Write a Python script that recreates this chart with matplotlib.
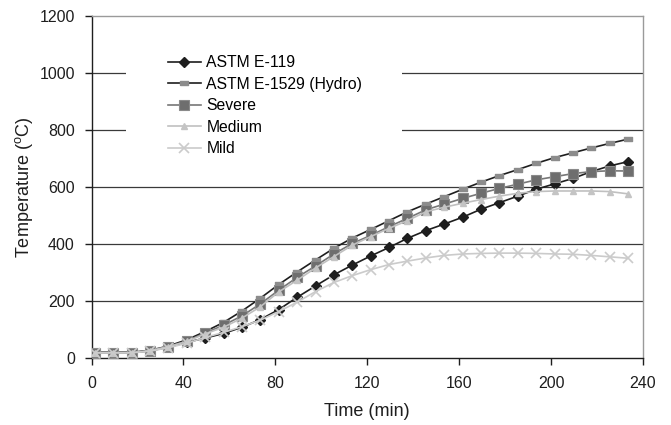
import matplotlib
matplotlib.use("Agg")
import matplotlib.pyplot as plt
from matplotlib.patches import Rectangle

plt.rcParams["font.family"] = ["Liberation Sans", "DejaVu Sans"]
plt.rcParams["mathtext.fontset"] = "custom"
plt.rcParams["mathtext.rm"] = "Liberation Sans"

# Time in minutes
time_min = [1.5, 9.5, 17.5, 25.5, 33.5, 41.5, 49.5, 57.5, 65.5, 73.5,
            81.5, 89.5, 97.5, 105.5, 113.5, 121.5, 129.5, 137.5, 145.5, 153.5,
            161.5, 169.5, 177.5, 185.5, 193.5, 201.5, 209.5, 217.5, 225.5, 233.5]

# Temperature curves (deg C)
astm_e119 = [19, 19, 19, 25, 38, 55, 70, 86, 108, 135,
             170, 213, 253, 292, 326, 358, 388, 420, 447, 470,
             494, 522, 545, 568, 592, 611, 630, 654, 674, 689]
astm_e1529 = [20, 20, 20, 27, 42, 64, 93, 125, 165, 210,
              258, 302, 344, 385, 421, 451, 482, 513, 540, 566,
              592, 617, 640, 661, 683, 703, 720, 737, 753, 768]
severe = [19, 19, 19, 26, 40, 60, 88, 115, 148, 190,
          238, 283, 323, 365, 402, 430, 461, 490, 520, 540,
          560, 578, 595, 610, 625, 636, 647, 654, 657, 656]
medium = [19, 19, 19, 26, 40, 58, 85, 108, 140, 180,
          232, 273, 316, 356, 396, 426, 455, 482, 513, 529,
          543, 556, 568, 578, 584, 586, 586, 586, 584, 576]
mild = [18, 18, 18, 24, 36, 52, 72, 90, 110, 133,
        163, 196, 233, 265, 289, 310, 328, 340, 351, 360,
        365, 367, 368, 368, 367, 365, 364, 360, 355, 350]

x_ticks = [0, 40, 80, 120, 160, 200, 240]
y_ticks = [0, 200, 400, 600, 800, 1000, 1200]

W, H = 671, 425
fig = plt.figure(figsize=(W / 100, H / 100), dpi=100)
ax = fig.add_axes([91.5 / W, 1 - 358 / H, (643 - 91.5) / W, (358 - 16) / H])

# horizontal grid
for yv in y_ticks[1:-1]:
    ax.axhline(yv, color="#3a3a3a", lw=0.9, zorder=1)

# white panel behind the legend
ax.add_patch(Rectangle((15, 690), 120, 400, facecolor="white",
                       edgecolor="none", zorder=1.5))

rect_marker = [(-1, -0.45), (1, -0.45), (1, 0.45), (-1, 0.45), (-1, -0.45)]

ax.plot(time_min, astm_e119, color="#1e1e1e", lw=1.2, marker="D", ms=5,
        mfc="#1e1e1e", mec="#1e1e1e", label="ASTM E-119", zorder=3)
ax.plot(time_min, astm_e1529, color="#1e1e1e", lw=1.2, marker=rect_marker, ms=6,
        mfc="#8c8c8c", mec="#8c8c8c", label="ASTM E-1529 (Hydro)", zorder=3)
ax.plot(time_min, severe, color="#777777", lw=1.2, marker="s", ms=7.5,
        mfc="#6e6e6e", mec="#8a8a8a", mew=0.8, label="Severe", zorder=3)
ax.plot(time_min, medium, color="#c0c0c0", lw=1.2, marker="^", ms=5,
        mfc="#c4c4c4", mec="#c4c4c4", label="Medium", zorder=3)
ax.plot(time_min, mild, color="#cbcbcb", lw=1.2, marker="x", ms=6.5, mew=1.2,
        mfc="#cbcbcb", mec="#cbcbcb", label="Mild", zorder=3)

ax.set_xlim(0, 240)
ax.set_ylim(0, 1200)
ax.set_xticks(x_ticks)
ax.set_yticks(y_ticks)
ax.tick_params(axis="both", direction="out", length=5, width=1,
               labelsize=11.5, colors="#1e1e1e")
ax.tick_params(axis="y", pad=7)
ax.tick_params(axis="x", pad=8)

for side in ("left", "bottom"):
    ax.spines[side].set_color("#1e1e1e")
    ax.spines[side].set_linewidth(1)
for side in ("top", "right"):
    ax.spines[side].set_color("#9a9a9a")
    ax.spines[side].set_linewidth(1)

ax.set_xlabel("Time (min)", fontsize=13, color="#1e1e1e", va="center")
ax.set_ylabel(r"Temperature ($\mathregular{^{o}}$C)", fontsize=13,
              color="#1e1e1e", va="center")
ax.xaxis.set_label_coords(0.5, (358 - 411) / 342)
ax.yaxis.set_label_coords((24 - 91.5) / 551.5, 0.5)

leg = ax.legend(loc="upper left", bbox_to_anchor=(168 / W, 1 - 55 / H),
                bbox_transform=fig.transFigure, frameon=False, fontsize=11.3,
                borderpad=0, borderaxespad=0, handlelength=2.1,
                handletextpad=0.35, labelspacing=0.42)
leg.set_zorder(4)

fig.savefig("out.png", dpi=100)
